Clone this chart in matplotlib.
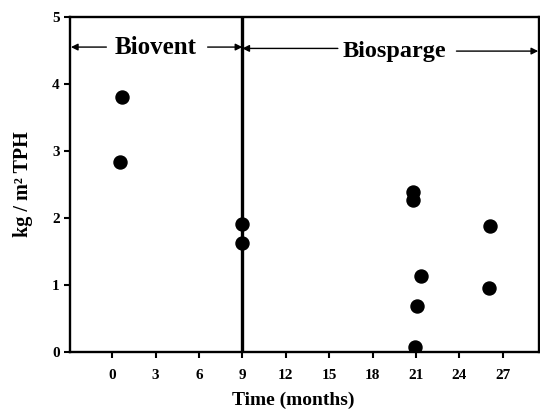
import matplotlib
matplotlib.use("Agg")
import matplotlib.pyplot as plt

# data
x_vals = [0.7, 0.55, 9.0, 9.0, 20.8, 20.8, 21.35, 21.05, 20.95, 26.1, 26.05]
y_vals = [3.80, 2.84, 1.91, 1.63, 2.39, 2.27, 1.13, 0.69, 0.07, 1.88, 0.955]
xticks = [0, 3, 6, 9, 12, 15, 18, 21, 24, 27]
yticks = [0, 1, 2, 3, 4, 5]
phase_split = 9
phase_labels = ["Biovent", "Biosparge"]

plt.rcParams['font.family'] = ['Liberation Serif', 'DejaVu Serif']
plt.rcParams['font.weight'] = 'bold'

fig = plt.figure(figsize=(5.40, 4.13), dpi=100)
ax = fig.add_axes([0.13, 0.148, 0.868, 0.811])

ax.scatter(x_vals, y_vals, s=88, color='black', zorder=3)
ax.axvline(phase_split, color='black', lw=2.4, zorder=2)

xmin, xmax = -2.9, 29.5
ax.set_xlim(xmin, xmax)
ax.set_ylim(0, 5)
ax.set_xticks(xticks)
ax.set_yticks(yticks)
ax.tick_params(axis='both', direction='out', length=4, width=1.5, labelsize=11)
ax.tick_params(axis='x', pad=8)
for lab in ax.get_xticklabels() + ax.get_yticklabels():
    lab.set_fontweight('bold')
for s in ax.spines.values():
    s.set_linewidth(1.7)

ya = 4.55
ap = dict(arrowstyle='-|>', color='black', lw=1.0, mutation_scale=10, shrinkA=0, shrinkB=0)
ax.text(3.0, ya, phase_labels[0], ha='center', va='center', fontsize=18, fontweight='bold')
ax.text(19.5, ya - 0.06, phase_labels[1], ha='center', va='center', fontsize=17.5, fontweight='bold')
ax.annotate('', xy=(xmin + 0.05, ya), xytext=(-0.4, ya), arrowprops=ap)
ax.annotate('', xy=(phase_split, ya), xytext=(6.6, ya), arrowprops=ap)
ax.annotate('', xy=(phase_split, ya - 0.02), xytext=(15.6, ya - 0.02), arrowprops=ap)
ax.annotate('', xy=(xmax - 0.05, ya - 0.06), xytext=(23.8, ya - 0.06), arrowprops=ap)

ax.set_xlabel('Time (months)', fontsize=14, fontweight='bold')
ax.xaxis.set_label_coords(0.475, -0.12)
ax.set_ylabel('kg / m² TPH', fontsize=14.5, fontweight='bold', labelpad=14)

fig.savefig('out.png', dpi=100)
